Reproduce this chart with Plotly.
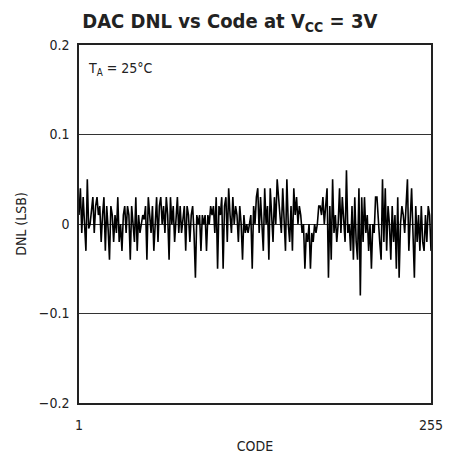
import plotly.graph_objects as go

seg1 = [0.01, 0.04, -0.01, 0.03, 0.0, -0.03, 0.05, -0.005, 0.0, 0.02, 0.03, -0.01, 0.02, 0.03, 0.01, 0.02,
        -0.02, 0.01, 0.03, -0.03, 0.02, -0.005, -0.04, 0.02, 0.01, -0.02, 0.01, -0.01, 0.03, -0.02, 0.0,
        -0.03, 0.01, 0.02, -0.01, 0.02, 0.01]
seg2 = [-0.04, 0.02, 0.0, -0.02, 0.03, -0.03, 0.01, -0.01, 0.0, 0.01, 0.005, 0.02, -0.04, 0.03, 0.01, -0.01,
        0.02, -0.03, 0.0, 0.03, -0.02, 0.02, 0.03, 0.0, 0.02, -0.01, 0.03, 0.01, -0.04, 0.03, 0.0, 0.02,
        -0.02, 0.01, 0.03, -0.01]
seg3 = [0.02, -0.01, 0.01, 0.02, -0.03, 0.02, 0.01, -0.02, 0.01, 0.02, -0.01, -0.06, 0.01, 0.0, 0.01, -0.03,
        0.01, 0.0, 0.01, -0.03, 0.01, 0.0, 0.02, 0.01, 0.02, -0.01, 0.03, -0.05, 0.02, 0.01, 0.03, -0.05,
        0.02, 0.03, -0.02, 0.04]
seg4 = [0.01, -0.01, 0.03, 0.0, 0.02, 0.01, -0.02, 0.02, 0.0, -0.04, 0.01, -0.01, 0.0, -0.01, 0.0, 0.01,
        -0.05, 0.02, 0.0, 0.03, 0.04, -0.01, 0.03, 0.0, -0.03, 0.04, 0.0, 0.02, -0.04, 0.04, 0.01, -0.02,
        0.03, 0.0, 0.05, 0.03]
seg5 = [0.02, -0.01, 0.04, 0.01, -0.03, 0.05, 0.0, -0.02, 0.02, -0.03, 0.04, 0.01, 0.03, 0.0, 0.02, 0.01,
        -0.01, 0.0, -0.05, -0.01, -0.02, 0.0, -0.05, -0.01, -0.02, 0.0, -0.01, 0.0, 0.02, 0.02, 0.01, 0.03,
        0.0, 0.02, 0.04, -0.06]
seg6 = [0.02, -0.04, 0.05, -0.01, 0.01, -0.02, 0.0, 0.04, -0.01, 0.03, 0.0, -0.02, 0.06, -0.01, 0.0, -0.03,
        0.02, -0.04, 0.03, -0.02, -0.04, 0.04, -0.08, 0.03, -0.02, 0.03, -0.01, 0.01, -0.03, 0.0, -0.05, 0.0,
        -0.01, 0.03, 0.03, 0.0]
seg7 = [-0.02, -0.04, 0.05, -0.02, 0.04, -0.03, 0.02, 0.0, -0.04, 0.02, -0.02, 0.01, -0.05, 0.03, -0.06, 0.0,
        0.02, 0.01, -0.01, 0.02, 0.05, -0.03, 0.01, 0.04, -0.01, -0.06, 0.02, -0.02, 0.01, -0.03, 0.02, -0.02,
        -0.03, 0.01, -0.02, 0.02, 0.01, -0.03]

dnl = seg1 + seg2 + seg3 + seg4 + seg5 + seg6 + seg7
codes = list(range(1, len(dnl) + 1))

y_ticks = [-0.2, -0.1, 0, 0.1, 0.2]
y_labels = ["\u22120.2", "\u22120.1", "0", "0.1", "0.2"]
x_ticks = [1, 255]
x_labels = ["1", "255"]

FONT = "DejaVu Sans Condensed, Liberation Sans, Arial, sans-serif"

fig = go.Figure()
fig.add_trace(go.Scatter(x=codes, y=dnl, mode="lines",
                         line=dict(color="black", width=1.6), showlegend=False))

fig.update_layout(
    width=464, height=465,
    margin=dict(l=71, r=41, t=37, b=70),
    paper_bgcolor="white", plot_bgcolor="white",
    font=dict(family=FONT, size=14, color="#222"),
    title=dict(text="<b>DAC DNL vs Code at V<sub>CC</sub> = 3V</b>",
               x=0.478, xanchor="center", y=0.972, yanchor="middle",
               font=dict(family=FONT, size=20, color="#222")),
    xaxis=dict(range=[1, 255], tickvals=x_ticks, ticktext=x_labels,
               showgrid=False, zeroline=False, showline=True, mirror=True,
               linecolor="#222", linewidth=1.5, ticks="", ticklabelstandoff=8,
               title=dict(text="CODE", standoff=10, font=dict(family=FONT, size=14))),
    yaxis=dict(range=[-0.2, 0.2], tickvals=y_ticks, ticktext=y_labels,
               showgrid=True, gridcolor="#333", gridwidth=1,
               zeroline=False, showline=True, mirror=True,
               linecolor="#222", linewidth=1.5, ticks="", ticklen=0, ticklabelstandoff=5,
               title=dict(text="DNL (LSB)", standoff=9, font=dict(family=FONT, size=14))),
    annotations=[dict(text="T<sub>A</sub> = 25\u00b0C", x=0.02, y=0.963,
                      xref="paper", yref="paper", xanchor="left", yanchor="top",
                      showarrow=False, font=dict(family=FONT, size=14, color="#222"))],
)

fig.write_html("out.html")
